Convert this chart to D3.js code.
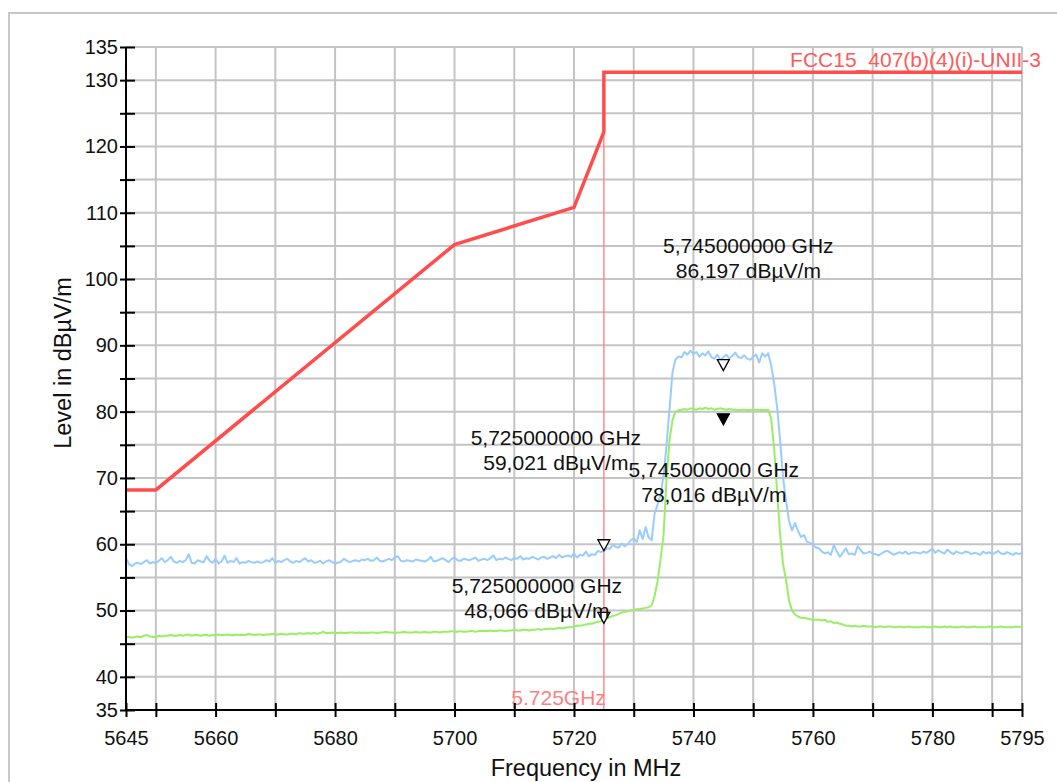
<!DOCTYPE html>
<html><head><meta charset="utf-8">
<script src="https://cdn.jsdelivr.net/npm/d3@7"></script>
<style>
html,body{margin:0;padding:0;background:#fff;}
svg{display:block;font-family:"Liberation Sans",Arial,Helvetica,sans-serif;}
</style></head>
<body>
<svg id="chart" width="1057" height="782"></svg>
<script>
// ---------- DATA ----------
const freqStartMHz = 5645;      // sweep start
const freqStepMHz = 0.5;        // sweep step
const xTickValues = [5645, 5650, 5660, 5670, 5680, 5690, 5700, 5710, 5720, 5730, 5740, 5750, 5760, 5770, 5780, 5790, 5795];
const xTickLabels = [5645, 5660, 5680, 5700, 5720, 5740, 5760, 5780, 5795];
const yTickValues = [35, 40, 45, 50, 55, 60, 65, 70, 75, 80, 85, 90, 95, 100, 105, 110, 115, 120, 125, 130, 135];
const yTickLabels = [35, 40, 50, 60, 70, 80, 90, 100, 110, 120, 130, 135];

// Peak trace (blue), dBµV/m, one value per 0.5 MHz from 5645 MHz
const peakTrace = [
  57.9, 57.0, 56.7, 57.1, 57.2, 57.0, 57.3, 57.6, 57.1, 57.3, 57.2, 57.5, 57.9, 57.3, 57.6, 58.1, 57.4, 57.2, 57.5, 57.3,
  57.6, 58.5, 57.2, 57.1, 57.6, 57.4, 57.3, 58.2, 57.5, 57.2, 57.8, 57.1, 57.4, 58.3, 57.2, 57.5, 57.3, 57.9, 57.1, 57.3,
  57.2, 57.5, 57.3, 57.2, 57.4, 57.2, 57.3, 57.6, 57.4, 57.9, 57.2, 57.5, 57.3, 57.6, 57.8, 57.4, 57.2, 57.5, 57.3, 57.6,
  57.9, 57.4, 57.6, 57.2, 57.3, 57.5, 57.1, 57.4, 57.6, 57.3, 57.1, 57.2, 57.4, 57.8, 57.5, 57.3, 57.5, 57.6, 57.4, 57.7,
  57.6, 57.8, 57.5, 57.6, 58.0, 57.5, 57.4, 57.6, 57.8, 57.6, 58.0, 58.2, 57.5, 57.4, 57.6, 57.5, 57.4, 57.7, 57.6, 57.5,
  57.4, 57.6, 58.1, 57.4, 57.5, 57.7, 57.9, 57.6, 57.3, 57.8, 58.0, 57.6, 57.5, 57.8, 57.7, 57.6, 57.8, 58.0, 57.5, 57.7,
  57.8, 57.6, 57.9, 58.3, 57.6, 57.8, 57.7, 58.0, 57.8, 57.6, 57.9, 57.8, 58.2, 57.7, 57.9, 57.8, 58.1, 57.9, 57.7, 58.0,
  58.1, 57.8, 58.0, 58.2, 57.9, 58.4, 58.0, 58.2, 58.3, 58.1, 58.6, 58.0, 58.4, 58.3, 58.9, 58.2, 58.5, 58.4, 59.0, 58.8,
  59.0, 59.4, 59.3, 59.9, 59.6, 59.5, 60.1, 59.7, 60.0, 60.6, 60.9, 60.3, 62.1, 60.8, 62.6, 61.0, 60.6, 64.7, 66.0, 67.5,
  70.5, 75.0, 80.5, 86.0, 87.9, 88.3, 88.2, 89.0, 88.6, 89.2, 88.7, 89.0, 88.3, 88.8, 88.5, 89.1, 88.2, 88.0, 88.6, 87.8,
  88.2, 88.6, 88.0, 88.4, 88.9, 88.2, 88.1, 88.5, 88.0, 87.8, 88.3, 88.6, 87.4, 88.8, 88.3, 88.8, 87.0, 84.3, 80.7, 75.7,
  70.1, 66.5, 63.5, 62.1, 63.2, 62.0, 61.1, 61.4, 60.4, 60.2, 59.9, 59.5, 59.4, 58.9, 58.6, 58.8, 58.4, 59.9, 58.9, 58.1,
  58.7, 59.4, 58.5, 58.6, 58.4, 59.7, 59.1, 58.6, 58.7, 58.9, 58.6, 58.5, 58.3, 58.6, 58.9, 59.0, 58.7, 58.4, 58.6, 58.8,
  58.6, 58.9, 58.5, 58.7, 58.8, 58.7, 58.6, 58.9, 58.7, 59.0, 59.3, 58.7, 59.1, 58.8, 58.6, 59.2, 58.8, 58.5, 58.9, 58.7,
  58.6, 58.9, 58.8, 58.5, 58.7, 58.6, 58.4, 58.9, 58.6, 58.8, 58.5, 58.7, 59.0, 58.6, 58.5, 58.8, 58.6, 58.4, 58.7, 58.5,
  58.7
];

// Average trace (green), dBµV/m, one value per 0.5 MHz from 5645 MHz
const avgTrace = [
  46.0, 46.0, 45.9, 46.0, 46.1, 46.0, 46.2, 46.3, 46.1, 46.0, 46.0, 46.2, 46.1, 46.2, 46.2, 46.3, 46.2, 46.2, 46.3, 46.2,
  46.3, 46.4, 46.2, 46.3, 46.3, 46.2, 46.3, 46.3, 46.2, 46.3, 46.3, 46.4, 46.3, 46.3, 46.4, 46.3, 46.3, 46.4, 46.3, 46.3,
  46.3, 46.5, 46.4, 46.3, 46.4, 46.4, 46.3, 46.4, 46.4, 46.5, 46.4, 46.4, 46.5, 46.4, 46.4, 46.5, 46.5, 46.4, 46.6, 46.5,
  46.5, 46.6, 46.5, 46.6, 46.5, 46.6, 46.8, 46.6, 46.6, 46.7, 46.6, 46.6, 46.7, 46.6, 46.6, 46.7, 46.7, 46.6, 46.7, 46.6,
  46.7, 46.6, 46.7, 46.7, 46.6, 46.7, 46.7, 46.8, 46.7, 46.7, 46.6, 46.7, 46.7, 46.8, 46.7, 46.7, 46.7, 46.8, 46.7, 46.7,
  46.8, 46.7, 46.7, 46.8, 46.8, 46.7, 46.8, 46.8, 46.8, 46.9, 46.8, 46.8, 46.9, 46.8, 46.8, 46.9, 46.9, 46.8, 46.9, 46.9,
  46.9, 46.9, 47.0, 46.9, 46.9, 47.0, 47.0, 46.9, 47.0, 47.0, 47.1, 47.0, 47.0, 47.1, 47.1, 47.0, 47.1, 47.1, 47.2, 47.1,
  47.2, 47.2, 47.3, 47.2, 47.3, 47.4, 47.3, 47.4, 47.5, 47.5, 47.6, 47.7, 47.7, 47.8, 47.9, 48.0, 48.0, 48.2, 48.3, 48.4,
  48.6, 48.8, 49.0, 49.2, 49.3, 49.5, 49.7, 49.8, 49.9, 50.0, 50.1, 50.2, 50.2, 50.3, 50.4, 50.5, 50.8, 52.2, 54.5, 57.8,
  61.5, 70.0, 75.8, 78.8, 80.0, 80.2, 80.3, 80.4, 80.3, 80.5, 80.4, 80.3, 80.5, 80.4, 80.6, 80.4, 80.5, 80.3, 80.4, 80.5,
  80.4, 80.3, 80.4, 80.3, 80.3, 80.2, 80.3, 80.3, 80.2, 80.3, 80.3, 80.3, 80.2, 80.3, 80.2, 80.3, 79.0, 74.5, 68.0, 61.5,
  57.0, 54.6, 51.5, 50.0, 49.4, 49.1, 48.9, 48.9, 48.8, 48.7, 48.6, 48.6, 48.6, 48.5, 48.6, 48.3, 48.4, 48.1, 48.2, 48.0,
  47.9, 47.7, 47.7, 47.6, 47.7, 47.6, 47.6, 47.7, 47.6, 47.6, 47.6, 47.5, 47.6, 47.6, 47.5, 47.6, 47.6, 47.5, 47.5, 47.6,
  47.5, 47.5, 47.6, 47.5, 47.5, 47.5, 47.5, 47.6, 47.5, 47.5, 47.5, 47.6, 47.5, 47.5, 47.6, 47.5, 47.6, 47.5, 47.5, 47.5,
  47.6, 47.5, 47.5, 47.5, 47.6, 47.5, 47.5, 47.5, 47.5, 47.6, 47.5, 47.5, 47.5, 47.6, 47.5, 47.5, 47.5, 47.5, 47.6, 47.5,
  47.6
];

// Limit line FCC15_407(b)(4)(i)-UNII-3: breakpoints [MHz, dBµV/m]
const limitFreq  = [5645, 5650, 5700, 5720, 5725, 5725, 5795];
const limitLevel = [68.2, 68.2, 105.2, 110.8, 122.2, 131.2, 131.2];
const limitName = "FCC15_407(b)(4)(i)-UNII-3";

// Band-edge line
const bandEdgeMHz = 5725;
const bandEdgeLabel = "5.725GHz";

// Markers
const markerFreq  = [5745, 5725, 5745, 5725];
const markerLevel = [86.197, 59.021, 78.016, 48.066];
const markerLine1 = ["5,745000000 GHz", "5,725000000 GHz", "5,745000000 GHz", "5,725000000 GHz"];
const markerLine2 = ["86,197 dBµV/m", "59,021 dBµV/m", "78,016 dBµV/m", "48,066 dBµV/m"];
const markerFilled = [false, false, true, false];

const xAxisTitle = "Frequency in MHz";
const yAxisTitle = "Level in dBµV/m";

// ---------- LAYOUT ----------
const svg = d3.select("#chart");
const pL = 126, pR = 1022, pT = 47, pB = 710;
const x = d3.scaleLinear().domain([5645, 5795]).range([pL, pR]);
const y = d3.scaleLinear().domain([35, 135]).range([pB, pT]);
const FS = 20, FS_LABEL = 21, FS_TITLE = 23.5;

// outer frame
svg.append("rect").attr("x", 9).attr("y", 13).attr("width", 1100).attr("height", 800)
  .attr("fill", "none").attr("stroke", "#c8c8c8").attr("stroke-width", 2);

// grid
const grid = svg.append("g").attr("stroke", "#c4c4c4").attr("stroke-width", 2);
grid.selectAll("line.v").data(xTickValues.filter(v => v !== 5645)).enter().append("line")
  .attr("x1", d => x(d)).attr("x2", d => x(d)).attr("y1", pT).attr("y2", pB);
grid.selectAll("line.h").data(yTickValues.filter(v => v !== 35)).enter().append("line")
  .attr("y1", d => y(d)).attr("y2", d => y(d)).attr("x1", pL).attr("x2", pR);

// traces
const fx = (d, i) => x(freqStartMHz + i * freqStepMHz);
const line = d3.line().x(fx).y(d => y(d));
svg.append("path").datum(peakTrace).attr("d", line).attr("fill", "none")
  .attr("stroke", "#99ccff").attr("stroke-width", 2).attr("stroke-linejoin", "round");
svg.append("path").datum(avgTrace).attr("d", line).attr("fill", "none")
  .attr("stroke", "#99ee66").attr("stroke-width", 2).attr("stroke-linejoin", "round");

// band edge line
svg.append("line").attr("x1", x(bandEdgeMHz)).attr("x2", x(bandEdgeMHz))
  .attr("y1", y(35)).attr("y2", y(d3.max(limitLevel)))
  .attr("stroke", "#ff8a8a").attr("stroke-width", 1.5);
svg.append("text").attr("x", x(bandEdgeMHz) + 2).attr("y", y(35) - 5)
  .attr("text-anchor", "end").attr("font-size", FS_LABEL).attr("fill", "#ff8080").text(bandEdgeLabel);

// limit line
const limitPts = limitFreq.map((f, i) => [f, limitLevel[i]]);
svg.append("path").datum(limitPts)
  .attr("d", d3.line().x(d => x(d[0])).y(d => y(d[1])))
  .attr("fill", "none").attr("stroke", "#ff4d4d").attr("stroke-width", 3.5);
svg.append("text").attr("x", x(5795) + 19).attr("y", y(d3.max(limitLevel)) - 5)
  .attr("text-anchor", "end").attr("font-size", FS_LABEL).attr("fill", "#ff5a5a").text(limitName);

// axes
const yAxis = d3.axisLeft(y).tickValues(yTickValues)
  .tickFormat(d => yTickLabels.includes(d) ? d : "").tickSize(6).tickPadding(4);
const gy = svg.append("g").attr("transform", `translate(${pL},0)`).call(yAxis);
gy.select(".domain").attr("stroke", "#000").attr("stroke-width", 2).attr("d", `M0,${pT}V${pB}`);
gy.selectAll(".tick line").attr("x1", 9).attr("x2", -6).attr("stroke", "#000").attr("stroke-width", 2);
gy.selectAll(".tick text").attr("font-size", FS).attr("fill", "#111")
  .attr("font-family", "'Liberation Sans',Arial,sans-serif").attr("x", -8);

const xAxis = d3.axisBottom(x).tickValues(xTickValues)
  .tickFormat(d => xTickLabels.includes(d) ? d : "").tickSize(7);
const gx = svg.append("g").attr("transform", `translate(0,${pB})`).call(xAxis);
gx.select(".domain").attr("stroke", "#000").attr("stroke-width", 2).attr("d", `M${pL},0H${pR}`);
gx.selectAll(".tick line").attr("y1", -7).attr("y2", 7).attr("stroke", "#000").attr("stroke-width", 2);
gx.selectAll(".tick text").attr("font-size", FS).attr("fill", "#111")
  .attr("font-family", "'Liberation Sans',Arial,sans-serif").attr("y", 21);

// axis titles
svg.append("text").attr("x", 586).attr("y", 776).attr("text-anchor", "middle")
  .attr("font-size", FS_TITLE).attr("fill", "#111").text(xAxisTitle);
svg.append("text").attr("transform", "translate(71,363) rotate(-90)").attr("text-anchor", "middle")
  .attr("font-size", FS_TITLE).attr("fill", "#111").text(yAxisTitle);

// markers
const labelOffset = [[25, -118], [-48, -106], [-9.5, 52], [-67, -30]]; // label anchor relative to marker point
markerFreq.forEach((f, i) => {
  const px = x(f), py = y(markerLevel[i]);
  svg.append("path")
    .attr("d", `M${px},${py}L${px - 6},${py - 11}L${px + 6},${py - 11}Z`)
    .attr("fill", markerFilled[i] ? "#000" : "#fff").attr("stroke", "#000").attr("stroke-width", 1.3);
  const t = svg.append("text").attr("text-anchor", "middle").attr("font-size", FS_LABEL).attr("fill", "#111");
  t.append("tspan").attr("x", px + labelOffset[i][0]).attr("y", py + labelOffset[i][1]).text(markerLine1[i]);
  t.append("tspan").attr("x", px + labelOffset[i][0]).attr("y", py + labelOffset[i][1] + 25).text(markerLine2[i]);
});
</script>
</body></html>
